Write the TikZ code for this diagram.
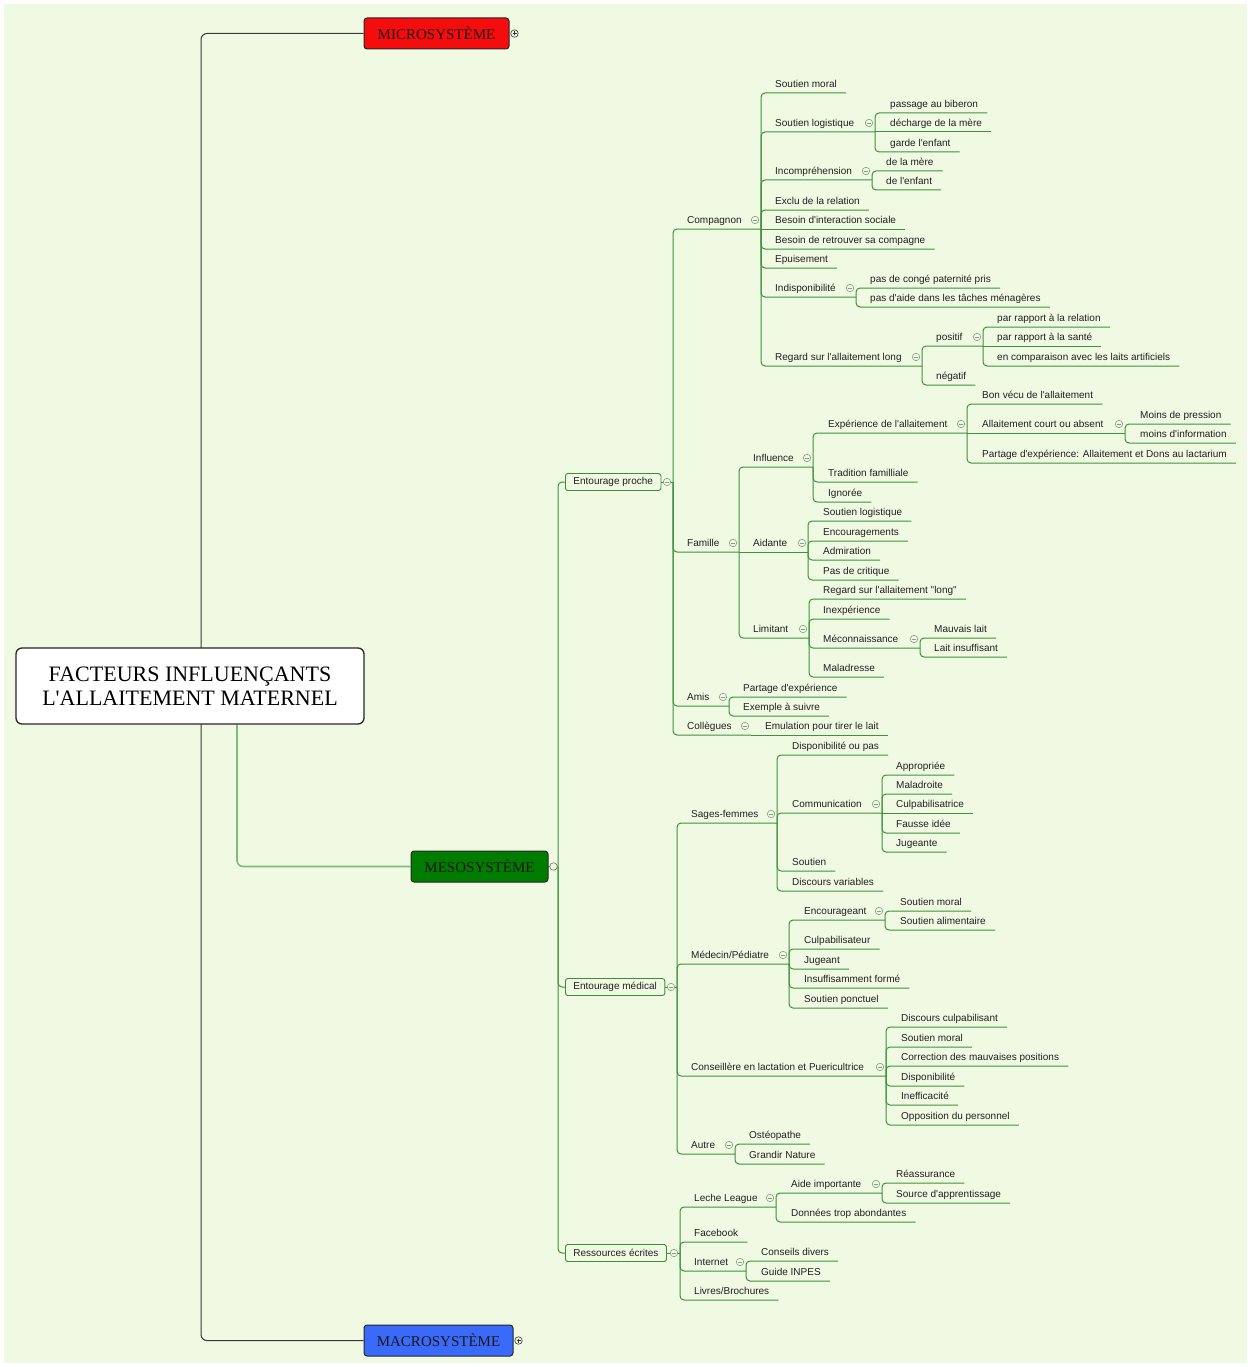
\documentclass[tikz,border=0pt]{standalone}
\usepackage{fontspec}
\setmainfont{Liberation Serif}[Ligatures=TeXOff]
\newfontfamily\lab{Liberation Sans}[Ligatures=TeXOff]
\usetikzlibrary{calc}
\pgfdeclarelayer{back}
\pgfdeclarelayer{bg}
\pgfsetlayers{back,bg,main}
\definecolor{bgc}{RGB}{240,250,226}
\definecolor{brc}{RGB}{62,145,62}
\definecolor{boxc}{RGB}{62,140,62}
\definecolor{mkc}{RGB}{130,160,130}
\definecolor{txc}{RGB}{32,32,32}
\definecolor{lgc}{RGB}{125,188,125}
\definecolor{dkc}{RGB}{55,55,55}
\definecolor{redc}{RGB}{245,12,12}
\definecolor{grnc}{RGB}{0,124,0}
\definecolor{bluc}{RGB}{58,106,250}
\definecolor{systx}{RGB}{28,22,22}
\newcommand\brLeaf[2]{\draw[br] (#1) |- ([xshift=9pt]#2.south east);}
\newcommand\brFlat[2]{\draw[br] (#1) -- ([xshift=9pt]#2.south east);}
\newcommand\brSub[2]{\draw[br] (#1) |- (#2);}
\newcommand\mkAt[2]{\node[mk] (#1) at ([xshift=-6pt,yshift=9pt]#2) {};}
\begin{document}
\begin{tikzpicture}[x=1pt,y=-1pt,
  lbl/.style={font=\lab\fontsize{10}{12}\selectfont, text=txc, anchor=south west, inner xsep=0pt, inner ysep=0pt, text height=7.5pt, text depth=5pt},
  boxn/.style={font=\lab\fontsize{10}{12}\selectfont, text=txc, anchor=west, draw=boxc, fill=bgc, line width=0.9pt, rounded corners=2.5pt, minimum height=17pt, inner xsep=8pt, inner ysep=0pt},
  sysbox/.style={font=\fontsize{15}{17}\selectfont, text=systx, draw=dkc!70!black, line width=1pt, rounded corners=3pt, minimum height=31pt, inner sep=0pt},
  rootbox/.style={font=\fontsize{22}{24}\selectfont, text=black, draw=black!85, fill=white, line width=1.3pt, rounded corners=6pt, minimum width=348pt, minimum height=76pt, align=center, inner sep=0pt},
  br/.style={draw=brc, line width=1pt, rounded corners=4pt},
  dk/.style={draw=dkc, line width=1pt, rounded corners=6pt},
  lg/.style={draw=lgc, line width=1.6pt, rounded corners=6pt},
  mk/.style={circle, draw=mkc, fill=bgc, line width=0.6pt, minimum size=7.5pt, inner sep=0pt,
    path picture={\draw[mkc, line width=0.6pt] ([xshift=-2pt]path picture bounding box.center) -- ([xshift=2pt]path picture bounding box.center);}},
  mkp/.style={circle, draw=dkc, fill=bgc, line width=0.6pt, minimum size=7.5pt, inner sep=0pt,
    path picture={\draw[dkc, line width=0.6pt] ([xshift=-2pt]path picture bounding box.center) -- ([xshift=2pt]path picture bounding box.center) ([yshift=-2pt]path picture bounding box.center) -- ([yshift=2pt]path picture bounding box.center);}},
  mko/.style={circle, draw=black!55, fill=bgc, line width=0.6pt, minimum size=7.5pt, inner sep=0pt}
]
\useasboundingbox (0,0) rectangle (1250,1367);
\begin{pgfonlayer}{back}
\fill[white] (0,0) rectangle (1250,1367);
\fill[bgc] (4,4) rectangle (1247,1363);
\end{pgfonlayer}

% ---------- main nodes ----------
\node[rootbox] (root) at (190,686) {FACTEURS INFLUENÇANTS\\L'ALLAITEMENT MATERNEL};
\node[sysbox, fill=redc, minimum width=145pt] (micro) at (436.5,33.5) {MICROSYSTÈME};
\node[sysbox, fill=grnc, minimum width=137pt] (meso) at (479.5,866.5) {MESOSYSTÈME};
\node[sysbox, fill=bluc, minimum width=149pt] (macro) at (438.5,1340.5) {MACROSYSTÈME};
\node[mkp] (micro-m) at ([xshift=5pt]micro.east) {};
\node[mkp] (macro-m) at ([xshift=5pt]macro.east) {};
\node[mko] (meso-m) at ([xshift=5pt]meso.east) {};
\coordinate (rt-b) at (201,686);
\coordinate (meso-b) at (558,867);

\node[boxn] (ep) at (565,482) {Entourage proche};
\coordinate (ep-b) at (673,482);
\node[boxn] (em) at (565,987) {Entourage médical};
\coordinate (em-b) at (677,987);
\node[boxn] (re) at (565,1253) {Ressources écrites};
\coordinate (re-b) at (680,1253);

% ---------- Compagnon ----------
\node[lbl] (cmp) at (687,229) {Compagnon}; \coordinate (cmp-b) at (761,229);
\node[lbl] (c1) at (775,93) {Soutien moral};
\node[lbl] (c2) at (775,132) {Soutien logistique}; \coordinate (c2-b) at (875,132);
\node[lbl] (c21) at (890,113) {passage au biberon};
\node[lbl] (c22) at (890,132) {décharge de la mère};
\node[lbl] (c23) at (890,152) {garde l'enfant};
\node[lbl] (c3) at (775,180) {Incompréhension}; \coordinate (c3-b) at (872,180);
\node[lbl] (c31) at (886,171) {de la mère};
\node[lbl] (c32) at (886,190) {de l'enfant};
\node[lbl] (c4) at (775,210) {Exclu de la relation};
\node[lbl] (c5) at (775,229) {Besoin d'interaction sociale};
\node[lbl] (c6) at (775,249) {Besoin de retrouver sa compagne};
\node[lbl] (c7) at (775,268) {Epuisement};
\node[lbl] (c8) at (775,297) {Indisponibilité}; \coordinate (c8-b) at (856,297);
\node[lbl] (c81) at (870,288) {pas de congé paternité pris};
\node[lbl] (c82) at (870,307) {pas d'aide dans les tâches ménagères};
\node[lbl] (c9) at (775,366) {Regard sur l'allaitement long}; \coordinate (c9-b) at (922,366);
\node[lbl] (c91) at (936,346) {positif}; \coordinate (c91-b) at (983,346);
\node[lbl] (c911) at (997,327) {par rapport à la relation};
\node[lbl] (c912) at (997,346) {par rapport à la santé};
\node[lbl] (c913) at (997,366) {en comparaison avec les laits artificiels};
\node[lbl] (c92) at (936,385) {négatif};

% ---------- Famille ----------
\node[lbl] (fam) at (687,552) {Famille}; \coordinate (fam-b) at (739,552);
\node[lbl] (f1) at (753,467) {Influence}; \coordinate (f1-b) at (813,467);
\node[lbl] (f11) at (828,433) {Expérience de l'allaitement}; \coordinate (f11-b) at (967,433);
\node[lbl] (f111) at (982,404) {Bon vécu de l'allaitement};
\node[lbl] (f112) at (982,433) {Allaitement court ou absent}; \coordinate (f112-b) at (1125,433);
\node[lbl] (f1121) at (1140,424) {Moins de pression};
\node[lbl] (f1122) at (1140,443) {moins d'information};
\node[lbl] (f113) at (982,463) {Partage d'expérience: Allaitement et Dons au lactarium};
\node[lbl] (f12) at (828,482) {Tradition familliale};
\node[lbl] (f13) at (828,502) {Ignorée};
\node[lbl] (f2) at (753,552) {Aidante}; \coordinate (f2-b) at (808,552);
\node[lbl] (f21) at (823,521) {Soutien logistique};
\node[lbl] (f22) at (823,541) {Encouragements};
\node[lbl] (f23) at (823,560) {Admiration};
\node[lbl] (f24) at (823,580) {Pas de critique};
\node[lbl] (f3) at (753,638) {Limitant}; \coordinate (f3-b) at (809,638);
\node[lbl] (f31) at (823,599) {Regard sur l'allaitement "long"};
\node[lbl] (f32) at (823,619) {Inexpérience};
\node[lbl] (f33) at (823,648) {Méconnaissance}; \coordinate (f33-b) at (920,648);
\node[lbl] (f331) at (934,638) {Mauvais lait};
\node[lbl] (f332) at (934,657) {Lait insuffisant};
\node[lbl] (f34) at (823,677) {Maladresse};
\node[lbl] (am) at (687,706) {Amis}; \coordinate (am-b) at (729,706);
\node[lbl] (am1) at (743,697) {Partage d'expérience};
\node[lbl] (am2) at (743,716) {Exemple à suivre};
\node[lbl] (col) at (687,735) {Collègues}; \coordinate (col-b) at (751,735);
\node[lbl] (col1) at (765,735) {Emulation pour tirer le lait};

% ---------- Entourage medical ----------
\node[lbl] (sf) at (691,823) {Sages-femmes}; \coordinate (sf-b) at (777,823);
\node[lbl] (sf1) at (792,755) {Disponibilité ou pas};
\node[lbl] (sf2) at (792,813) {Communication}; \coordinate (sf2-b) at (882,813);
\node[lbl] (sf21) at (896,775) {Appropriée};
\node[lbl] (sf22) at (896,794) {Maladroite};
\node[lbl] (sf23) at (896,813) {Culpabilisatrice};
\node[lbl] (sf24) at (896,833) {Fausse idée};
\node[lbl] (sf25) at (896,852) {Jugeante};
\node[lbl] (sf3) at (792,871) {Soutien};
\node[lbl] (sf4) at (792,891) {Discours variables};
\node[lbl] (md) at (691,964) {Médecin/Pédiatre}; \coordinate (md-b) at (789,964);
\node[lbl] (md1) at (804,920) {Encourageant}; \coordinate (md1-b) at (885,920);
\node[lbl] (md11) at (900,911) {Soutien moral};
\node[lbl] (md12) at (900,930) {Soutien alimentaire};
\node[lbl] (md2) at (804,949) {Culpabilisateur};
\node[lbl] (md3) at (804,969) {Jugeant};
\node[lbl] (md4) at (804,988) {Insuffisamment formé};
\node[lbl] (md5) at (804,1008) {Soutien ponctuel};
\node[lbl] (cl) at (691,1076) {Conseillère en lactation et Puericultrice}; \coordinate (cl-b) at (886,1076);
\node[lbl] (cl1) at (901,1027) {Discours culpabilisant};
\node[lbl] (cl2) at (901,1047) {Soutien moral};
\node[lbl] (cl3) at (901,1066) {Correction des mauvaises positions};
\node[lbl] (cl4) at (901,1086) {Disponibilité};
\node[lbl] (cl5) at (901,1105) {Inefficacité};
\node[lbl] (cl6) at (901,1125) {Opposition du personnel};
\node[lbl] (au) at (691,1154) {Autre}; \coordinate (au-b) at (735,1154);
\node[lbl] (au1) at (749,1144) {Ostéopathe};
\node[lbl] (au2) at (749,1164) {Grandir Nature};

% ---------- Ressources ecrites ----------
\node[lbl] (ll) at (694,1207) {Leche League}; \coordinate (ll-b) at (776,1207);
\node[lbl] (ll1) at (791,1193) {Aide importante}; \coordinate (ll1-b) at (882,1193);
\node[lbl] (ll11) at (896,1183) {Réassurance};
\node[lbl] (ll12) at (896,1203) {Source d'apprentissage};
\node[lbl] (ll2) at (791,1222) {Données trop abondantes};
\node[lbl] (fb) at (694,1242) {Facebook};
\node[lbl] (in) at (694,1271) {Internet}; \coordinate (in-b) at (746,1271);
\node[lbl] (in1) at (761,1261) {Conseils divers};
\node[lbl] (in2) at (761,1281) {Guide INPES};
\node[lbl] (lb) at (694,1300) {Livres/Brochures};

% ---------- connectors ----------
\begin{pgfonlayer}{bg}
\draw[dk] (rt-b) |- (micro.west);
\draw[dk] (rt-b) |- (macro.west);
\draw[lg] ([xshift=47pt]root.south) |- (meso.west);
\draw[br] (meso.east) -- (meso-b);
\brSub{meso-b}{ep.west}
\brSub{meso-b}{em.west}
\brSub{meso-b}{re.west}
\draw[br] (ep.east) -- (ep-b);
\draw[br] (em.east) -- (em-b);
\draw[br] (re.east) -- (re-b);
% entourage proche
\brSub{ep-b}{cmp-b}
\brSub{ep-b}{fam-b}
\brSub{ep-b}{am-b}
\brSub{ep-b}{col-b}
\brLeaf{cmp-b}{c1}
\brSub{cmp-b}{c2-b}
\brSub{cmp-b}{c3-b}
\brLeaf{cmp-b}{c4}
\brFlat{cmp-b}{c5}
\brLeaf{cmp-b}{c6}
\brLeaf{cmp-b}{c7}
\brSub{cmp-b}{c8-b}
\brSub{cmp-b}{c9-b}
\brLeaf{c2-b}{c21}
\brFlat{c2-b}{c22}
\brLeaf{c2-b}{c23}
\brLeaf{c3-b}{c31}
\brLeaf{c3-b}{c32}
\brLeaf{c8-b}{c81}
\brLeaf{c8-b}{c82}
\brSub{c9-b}{c91-b}
\brLeaf{c9-b}{c92}
\brLeaf{c91-b}{c911}
\brFlat{c91-b}{c912}
\brLeaf{c91-b}{c913}
\brSub{fam-b}{f1-b}
\draw[br] (fam-b) -- (f2-b);
\brSub{fam-b}{f3-b}
\brSub{f1-b}{f11-b}
\brLeaf{f1-b}{f12}
\brLeaf{f1-b}{f13}
\brLeaf{f11-b}{f111}
\draw[br] (f11-b) -- (f112-b);
\brLeaf{f11-b}{f113}
\brLeaf{f112-b}{f1121}
\brLeaf{f112-b}{f1122}
\brLeaf{f2-b}{f21}
\brLeaf{f2-b}{f22}
\brLeaf{f2-b}{f23}
\brLeaf{f2-b}{f24}
\brLeaf{f3-b}{f31}
\brLeaf{f3-b}{f32}
\brSub{f3-b}{f33-b}
\brLeaf{f3-b}{f34}
\brLeaf{f33-b}{f331}
\brLeaf{f33-b}{f332}
\brLeaf{am-b}{am1}
\brLeaf{am-b}{am2}
\brFlat{col-b}{col1}
% entourage medical
\brSub{em-b}{sf-b}
\brSub{em-b}{md-b}
\brSub{em-b}{cl-b}
\brSub{em-b}{au-b}
\brLeaf{sf-b}{sf1}
\brSub{sf-b}{sf2-b}
\brLeaf{sf-b}{sf3}
\brLeaf{sf-b}{sf4}
\brLeaf{sf2-b}{sf21}
\brLeaf{sf2-b}{sf22}
\brFlat{sf2-b}{sf23}
\brLeaf{sf2-b}{sf24}
\brLeaf{sf2-b}{sf25}
\brSub{md-b}{md1-b}
\brLeaf{md-b}{md2}
\brLeaf{md-b}{md3}
\brLeaf{md-b}{md4}
\brLeaf{md-b}{md5}
\brLeaf{md1-b}{md11}
\brLeaf{md1-b}{md12}
\brLeaf{cl-b}{cl1}
\brLeaf{cl-b}{cl2}
\brLeaf{cl-b}{cl3}
\brLeaf{cl-b}{cl4}
\brLeaf{cl-b}{cl5}
\brLeaf{cl-b}{cl6}
\brLeaf{au-b}{au1}
\brLeaf{au-b}{au2}
% ressources
\brSub{re-b}{ll-b}
\brLeaf{re-b}{fb}
\brSub{re-b}{in-b}
\brLeaf{re-b}{lb}
\brSub{ll-b}{ll1-b}
\brLeaf{ll-b}{ll2}
\brLeaf{ll1-b}{ll11}
\brLeaf{ll1-b}{ll12}
\brLeaf{in-b}{in1}
\brLeaf{in-b}{in2}
\end{pgfonlayer}

% ---------- markers ----------
\node[mk] (ep-m) at ([xshift=-6pt]ep-b) {};
\node[mk] (em-m) at ([xshift=-6pt]em-b) {};
\node[mk] (re-m) at ([xshift=-6pt]re-b) {};
\mkAt{cmp-m}{cmp-b}
\mkAt{c2-m}{c2-b}
\mkAt{c3-m}{c3-b}
\mkAt{c8-m}{c8-b}
\mkAt{c9-m}{c9-b}
\mkAt{c91-m}{c91-b}
\mkAt{fam-m}{fam-b}
\mkAt{f1-m}{f1-b}
\mkAt{f11-m}{f11-b}
\mkAt{f112-m}{f112-b}
\mkAt{f2-m}{f2-b}
\mkAt{f3-m}{f3-b}
\mkAt{f33-m}{f33-b}
\mkAt{am-m}{am-b}
\mkAt{col-m}{col-b}
\mkAt{sf-m}{sf-b}
\mkAt{sf2-m}{sf2-b}
\mkAt{md-m}{md-b}
\mkAt{md1-m}{md1-b}
\mkAt{cl-m}{cl-b}
\mkAt{au-m}{au-b}
\mkAt{ll-m}{ll-b}
\mkAt{ll1-m}{ll1-b}
\mkAt{in-m}{in-b}
\end{tikzpicture}
\end{document}
